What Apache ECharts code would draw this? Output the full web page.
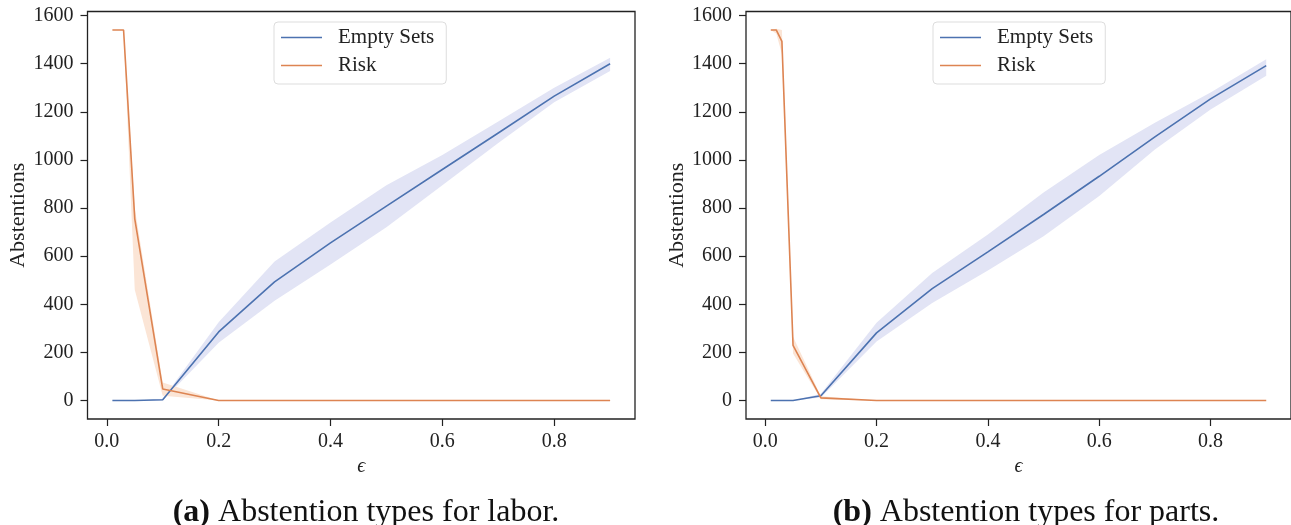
<!DOCTYPE html>
<html>
<head>
<meta charset="utf-8">
<script src="https://cdn.jsdelivr.net/npm/echarts@6/dist/echarts.min.js"></script>
<style>
  html, body { margin: 0; padding: 0; background: #fff; }
  #main { width: 1291px; height: 525px; }
</style>
</head>
<body>
<div id="main"></div>
<script>
var eps = [0.01, 0.02, 0.03, 0.05, 0.1, 0.2, 0.3, 0.4, 0.5, 0.6, 0.7, 0.8, 0.9];

// (a) labor
var laborEmpty   = [0, 0, 0, 0, 3, 285, 493, 655, 808, 960, 1112, 1265, 1400];
var laborEmptyLo = [0, 0, 0, 0, 0, 240, 415, 565, 720, 895, 1070, 1240, 1370];
var laborEmptyHi = [0, 0, 0, 0, 6, 325, 578, 740, 895, 1020, 1160, 1300, 1425];
var laborRisk    = [1540, 1540, 1540, 755, 48, 0, 0, 0, 0, 0, 0, 0, 0];
var laborRiskLo  = [1540, 1540, 1540, 460, 20, 0, 0, 0, 0, 0, 0, 0, 0];
var laborRiskHi  = [1540, 1540, 1540, 800, 75, 0, 0, 0, 0, 0, 0, 0, 0];

// (b) parts
var partsEmpty   = [0, 0, 0, 0, 20, 281, 465, 618, 773, 932, 1096, 1254, 1392];
var partsEmptyLo = [0, 0, 0, 0, 12, 245, 405, 540, 683, 850, 1043, 1210, 1350];
var partsEmptyHi = [0, 0, 0, 0, 28, 323, 530, 690, 865, 1020, 1155, 1280, 1418];
var partsRisk    = [1540, 1540, 1493, 229, 11, 0, 0, 0, 0, 0, 0, 0, 0];
var partsRiskLo  = [1540, 1525, 1440, 195, 5, 0, 0, 0, 0, 0, 0, 0, 0];
var partsRiskHi  = [1540, 1545, 1540, 265, 18, 0, 0, 0, 0, 0, 0, 0, 0];

var xTicks = [0, 0.2, 0.4, 0.6, 0.8];
var yTicks = [0, 200, 400, 600, 800, 1000, 1200, 1400, 1600];
var captions = ['Abstention types for labor.', 'Abstention types for parts.'];
var captionTags = ['(a)', '(b)'];

var BLUE = '#4c72b0', ORANGE = '#dd8452';
var BLUE_BAND = '#e2e4f5', ORANGE_BAND = '#fbe5d6';
var FONT = '"Liberation Serif", "DejaVu Serif", serif';

function pairs(ys) {
  return eps.map(function (x, i) { return [x, ys[i]]; });
}

// shaded band between lo and hi, drawn as one polygon through the axis scales
function bandSeries(idx, lo, hi, color) {
  var rows = eps.map(function (x, i) { return [x, lo[i], hi[i]]; });
  return {
    type: 'custom', xAxisIndex: idx, yAxisIndex: idx, silent: true, z: 1,
    data: rows,
    encode: { x: 0, y: [1, 2] },
    renderItem: function (params, api) {
      if (params.dataIndex !== 0) return null;
      var pts = [];
      rows.forEach(function (r) { pts.push(api.coord([r[0], r[2]])); });
      for (var i = rows.length - 1; i >= 0; i--) pts.push(api.coord([rows[i][0], rows[i][1]]));
      return { type: 'polygon', shape: { points: pts }, style: { fill: color, stroke: null } };
    }
  };
}

function lineSeries(idx, name, ys, color, z) {
  return {
    name: name, type: 'line', xAxisIndex: idx, yAxisIndex: idx,
    data: pairs(ys), symbol: 'none', lineStyle: { color: color, width: 1.6 },
    itemStyle: { color: color }, z: z
  };
}

var grids = [
  { left: 87.5, top: 11.5, width: 547.5, height: 407.5 },
  { left: 746, top: 11.5, width: 547.5, height: 407.5 }
];

var xAxes = grids.map(function (g, i) {
  return {
    type: 'value', gridIndex: i, min: -0.0345, max: 0.9445,
    name: 'ϵ', nameLocation: 'middle', nameGap: 37,
    nameTextStyle: { fontFamily: FONT, fontSize: 20, color: '#222', fontStyle: 'italic' },
    axisLine: { show: false, onZero: false },
    axisTick: { show: true, customValues: xTicks, length: 7, lineStyle: { color: '#222', width: 1.2 } },
    axisLabel: { customValues: xTicks, formatter: function (v) { return v.toFixed(1); },
      fontFamily: FONT, fontSize: 20, color: '#222', margin: 13 },
    splitLine: { show: false }
  };
});

var yAxes = grids.map(function (g, i) {
  return {
    type: 'value', gridIndex: i, min: -77, max: 1617,
    name: 'Abstentions', nameLocation: 'middle', nameGap: 58,
    nameTextStyle: { fontFamily: FONT, fontSize: 22, color: '#222' },
    axisLine: { show: false, onZero: false },
    axisTick: { show: true, customValues: yTicks, length: 7, lineStyle: { color: '#222', width: 1.2 } },
    axisLabel: { customValues: yTicks, formatter: function (v) { return String(v); },
      fontFamily: FONT, fontSize: 20, color: '#222', margin: 14 },
    splitLine: { show: false }
  };
});

var legendLeft = [274, 933];
var legends = legendLeft.map(function (l) {
  return {
    data: ['Empty Sets', 'Risk'], left: l, top: 22, orient: 'vertical',
    icon: 'rect', itemWidth: 41, itemHeight: 1.6, itemGap: 7,
    padding: [5, 12, 8, 7], borderColor: '#ddd', borderWidth: 1, borderRadius: 4,
    backgroundColor: '#fff',
    textStyle: { fontFamily: FONT, fontSize: 21, color: '#222', padding: [0, 0, 0, 11] },
    selectedMode: false
  };
});

var captionX = [361, 1021];
var titles = captionX.map(function (cx, i) {
  return {
    text: '{b|' + captionTags[i] + '} ' + captions[i],
    left: cx, top: 492, textAlign: 'center',
    textStyle: {
      fontFamily: FONT, fontSize: 32, fontWeight: 'normal', color: '#111',
      rich: { b: { fontFamily: FONT, fontSize: 32, fontWeight: 'bold', color: '#111' } }
    }
  };
});

var series = [
  bandSeries(0, laborEmptyLo, laborEmptyHi, BLUE_BAND),
  bandSeries(0, laborRiskLo, laborRiskHi, ORANGE_BAND),
  bandSeries(1, partsEmptyLo, partsEmptyHi, BLUE_BAND),
  bandSeries(1, partsRiskLo, partsRiskHi, ORANGE_BAND),
  lineSeries(0, 'Empty Sets', laborEmpty, BLUE, 3),
  lineSeries(0, 'Risk', laborRisk, ORANGE, 4),
  lineSeries(1, 'Empty Sets', partsEmpty, BLUE, 3),
  lineSeries(1, 'Risk', partsRisk, ORANGE, 4)
];

var myChart = echarts.init(document.getElementById('main'));
myChart.setOption({
  animation: false,
  backgroundColor: '#fff',
  title: titles,
  legend: legends,
  grid: grids.map(function (g) {
    return Object.assign({ show: true, borderColor: '#222', borderWidth: 1.3, backgroundColor: 'transparent' }, g);
  }),
  xAxis: xAxes,
  yAxis: yAxes,
  series: series
});
</script>
</body>
</html>
